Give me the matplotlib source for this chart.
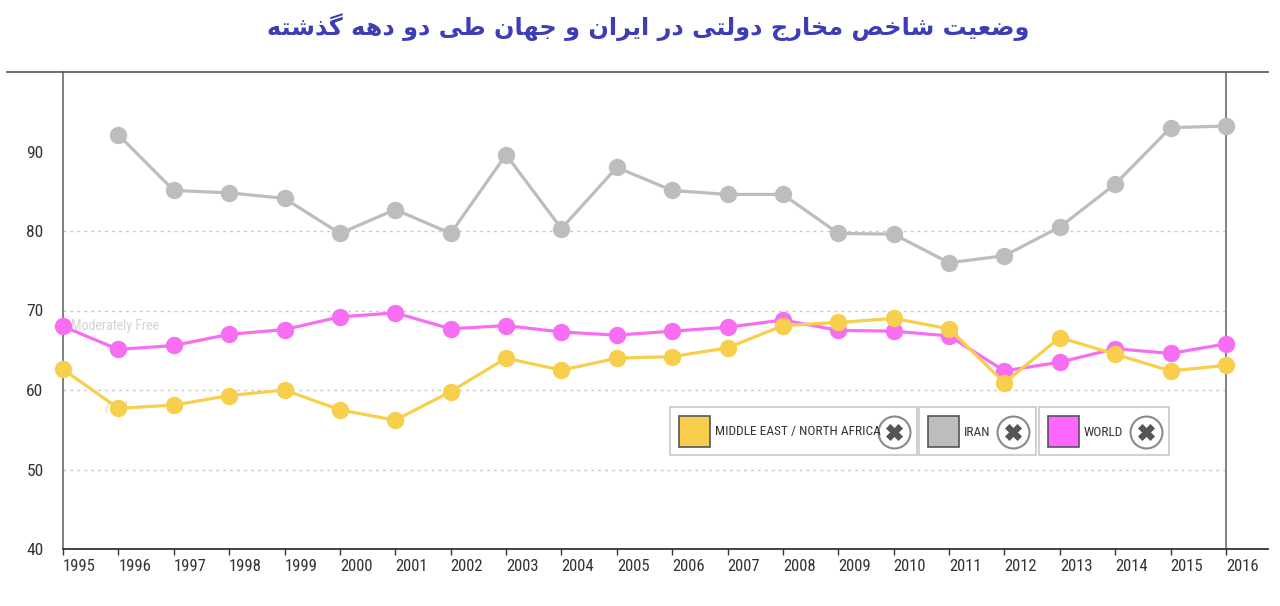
import matplotlib
matplotlib.use("Agg")
import matplotlib.pyplot as plt
from matplotlib import font_manager
from matplotlib.lines import Line2D
from matplotlib.patches import Rectangle

# data
years = list(range(1995, 2017))
iran_years = list(range(1996, 2017))
iran = [92.1, 85.1, 84.8, 84.1, 79.7, 82.7, 79.7, 89.6, 80.3, 88.0,
        85.1, 84.6, 84.6, 79.7, 79.6, 76.0, 76.9, 80.5, 85.9, 93.0, 93.2]
world = [68.0, 65.1, 65.6, 67.0, 67.6, 69.2, 69.7, 67.7, 68.1, 67.3, 66.9,
         67.4, 67.9, 68.8, 67.5, 67.4, 66.8, 62.4, 63.5, 65.2, 64.6, 65.8]
mena = [62.6, 57.7, 58.1, 59.3, 60.0, 57.5, 56.2, 59.8, 64.0, 62.5, 64.0,
        64.2, 65.3, 68.1, 68.5, 69.0, 67.7, 60.9, 66.6, 64.5, 62.4, 63.1]
y_ticks = [40, 50, 60, 70, 80, 90]
grid_vals = [50, 60, 70, 80]
labels = ["MIDDLE EAST / NORTH AFRICA", "IRAN", "WORLD"]
title = "وضعیت شاخص مخارج دولتی در ایران و جهان طی دو دهه گذشته"

c_mena = "#f8cf4c"
c_iran = "#bdbdbd"
c_world = "#f76ef3"

# pick a narrow font if one is there
names = {f.name for f in font_manager.fontManager.ttflist}
narrow = "DejaVu Sans"
for n in ["Liberation Sans Narrow", "Roboto Condensed", "Open Sans Condensed",
          "DejaVu Sans Condensed"]:
    if n in names:
        narrow = n
        break
plt.rcParams['font.family'] = [narrow, 'DejaVu Sans']

# simple arabic shaping (matplotlib does not join letters)
forms = {
    'ا': (0xFE8D, 0xFE8E), 'د': (0xFEA9, 0xFEAA), 'ذ': (0xFEAB, 0xFEAC),
    'ر': (0xFEAD, 0xFEAE), 'و': (0xFEED, 0xFEEE),
    'ت': (0xFE95, 0xFE96, 0xFE97, 0xFE98), 'ج': (0xFE9D, 0xFE9E, 0xFE9F, 0xFEA0),
    'خ': (0xFEA5, 0xFEA6, 0xFEA7, 0xFEA8), 'ش': (0xFEB5, 0xFEB6, 0xFEB7, 0xFEB8),
    'ص': (0xFEB9, 0xFEBA, 0xFEBB, 0xFEBC), 'ض': (0xFEBD, 0xFEBE, 0xFEBF, 0xFEC0),
    'ط': (0xFEC1, 0xFEC2, 0xFEC3, 0xFEC4), 'ع': (0xFEC9, 0xFECA, 0xFECB, 0xFECC),
    'ل': (0xFEDD, 0xFEDE, 0xFEDF, 0xFEE0), 'م': (0xFEE1, 0xFEE2, 0xFEE3, 0xFEE4),
    'ن': (0xFEE5, 0xFEE6, 0xFEE7, 0xFEE8), 'ه': (0xFEE9, 0xFEEA, 0xFEEB, 0xFEEC),
    'ی': (0xFBFC, 0xFBFD, 0xFBFE, 0xFBFF), 'گ': (0xFB92, 0xFB93, 0xFB94, 0xFB95),
}


def shape(s):
    out = []
    for i, ch in enumerate(s):
        if ch not in forms:
            out.append(ch)
            continue
        f = forms[ch]
        prev = s[i - 1] if i > 0 else ' '
        nxt = s[i + 1] if i < len(s) - 1 else ' '
        jp = prev in forms and len(forms[prev]) == 4
        jn = nxt in forms and len(f) == 4
        if jp and jn:
            k = 3
        elif jp:
            k = 1
        elif jn:
            k = 2
        else:
            k = 0
        out.append(chr(f[k]))
    return ''.join(out[::-1])


W, H = 1280, 606
fig = plt.figure(figsize=(W / 100, H / 100), dpi=100)
ax = fig.add_axes([63 / W, 1 - 549 / H, (1268 - 63) / W, (549 - 72) / H])
ax.set_xlim(1995, 1995 + (1268 - 63) / 55.38)
ax.set_ylim(40, 100)

for v in grid_vals:
    ax.hlines(v, 1995, 2016, colors="#c8c8c8", linestyles=(0, (2, 3)), lw=1, zorder=1)

ax.axvline(2016, color="#777777", lw=1.3, zorder=1)

# faint leftover labels
ax.text(1995.15, 67.6, "Moderately Free", fontsize=10, color="#d4d4d4", zorder=1.5)
ax.text(1995.75, 57.3, "/ Oil", fontsize=10, color="#d4d4d4", zorder=1.5)

ax.plot(iran_years, iran, color=c_iran, lw=2.3, marker='o', ms=11.5, clip_on=False, zorder=3)
ax.plot(years, world, color=c_world, lw=2.3, marker='o', ms=11.5, clip_on=False, zorder=4)
ax.plot(years, mena, color=c_mena, lw=2.3, marker='o', ms=11.5, clip_on=False, zorder=5)

for s in ['top', 'right']:
    ax.spines[s].set_visible(False)
ax.spines['left'].set_color("#777777")
ax.spines['left'].set_linewidth(1.3)
ax.spines['bottom'].set_color("#333333")
ax.spines['bottom'].set_linewidth(1.3)

ax.set_xticks(years)
ax.set_xticklabels([str(y) for y in years])
for lab in ax.get_xticklabels():
    lab.set_horizontalalignment('left')
ax.tick_params(axis='x', length=4, width=1, color="#333333", labelsize=12,
               labelcolor="#333333", pad=3)
ax.set_yticks(y_ticks)
ax.tick_params(axis='y', length=0, labelsize=12.5, labelcolor="#333333", pad=14)

# top rule across the whole width
fig.add_artist(Line2D([7 / W, 1268 / W], [1 - 72 / H, 1 - 72 / H], color="#555555", lw=1.2))

fig.text(648 / W, 1 - 27 / H, shape(title), ha='center', va='center', fontsize=17.3,
         fontweight='bold', color="#3d3db5", family=['DejaVu Sans'])


# legend boxes drawn by hand, positions in pixels
def legend_item(x0, x1, color, label):
    y0, y1 = 407, 455
    fig.add_artist(Rectangle((x0 / W, 1 - y1 / H), (x1 - x0) / W, (y1 - y0) / H,
                             facecolor='white', edgecolor="#c8c8c8", lw=1.2,
                             transform=fig.transFigure))
    fig.add_artist(Rectangle(((x0 + 9) / W, 1 - 447 / H), 31 / W, 31 / H,
                             facecolor=color, edgecolor="#555555", lw=1.2,
                             transform=fig.transFigure))
    fig.text((x0 + 45) / W, 1 - 432 / H, label, ha='left', va='center',
             fontsize=9.6, color="#333333")
    cx = (x1 - 23) / W
    fig.add_artist(Line2D([cx], [1 - 432 / H], marker='o', ms=23, mfc='white',
                          mec="#8a8a8a", mew=1.5, transform=fig.transFigure))
    fig.add_artist(Line2D([cx], [1 - 432 / H], marker='X', ms=12, mfc="#555555",
                          mec="#555555", mew=0.5, transform=fig.transFigure))


legend_item(670, 917, c_mena, labels[0])
legend_item(919, 1036, c_iran, labels[1])
legend_item(1039, 1169, "#ff66ff", labels[2])

fig.savefig("out.png", dpi=100, facecolor='white')
